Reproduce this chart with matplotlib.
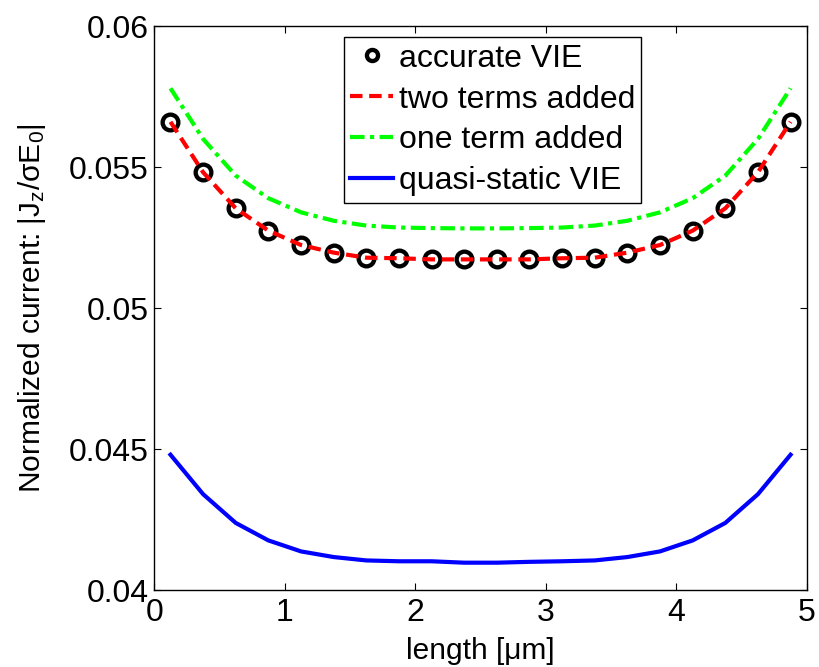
import matplotlib
matplotlib.use("Agg")
import matplotlib.pyplot as plt

plt.rcParams['font.family'] = ['Liberation Sans', 'DejaVu Sans']
plt.rcParams['mathtext.fontset'] = 'custom'
plt.rcParams['mathtext.rm'] = 'Liberation Sans'
plt.rcParams['mathtext.it'] = 'Liberation Sans'
plt.rcParams['mathtext.sf'] = 'Liberation Sans'

x = [0.125, 0.375, 0.625, 0.875, 1.125, 1.375, 1.625, 1.875, 2.125, 2.375,
     2.625, 2.875, 3.125, 3.375, 3.625, 3.875, 4.125, 4.375, 4.625, 4.875]

accurate = [0.05661, 0.05482, 0.05354, 0.05275, 0.05224, 0.05197, 0.05179, 0.05177, 0.05173, 0.05173,
            0.05173, 0.05173, 0.05177, 0.05179, 0.05197, 0.05224, 0.05275, 0.05354, 0.05482, 0.05661]
two_terms = [0.05661, 0.05482, 0.05354, 0.05275, 0.05224, 0.05197, 0.05179, 0.05177, 0.05173, 0.05173,
             0.05173, 0.05173, 0.05177, 0.05179, 0.05197, 0.05224, 0.05275, 0.05354, 0.05482, 0.05661]
one_term = [0.05780, 0.05600, 0.05470, 0.05390, 0.05340, 0.05310, 0.05293, 0.05286, 0.05284, 0.05283,
            0.05283, 0.05284, 0.05286, 0.05293, 0.05310, 0.05340, 0.05390, 0.05470, 0.05600, 0.05780]
quasi_static = [0.04480, 0.04340, 0.04238, 0.04176, 0.04137, 0.04117, 0.04105, 0.04102, 0.04102, 0.04097,
                0.04097, 0.04100, 0.04102, 0.04105, 0.04117, 0.04137, 0.04176, 0.04238, 0.04340, 0.04480]

xticks = [0, 1, 2, 3, 4, 5]
yticks = [0.04, 0.045, 0.05, 0.055, 0.06]
ytick_labels = ['0.04', '0.045', '0.05', '0.055', '0.06']

FS_TICK = 23
FS_LEG = 23
FS_LABEL = 21.5

fig = plt.figure(figsize=(8.2, 6.67), dpi=100)
ax = fig.add_axes([0.188, 0.1154, 0.796, 0.8452])

ax.plot(x, accurate, linestyle='none', marker='o', markersize=11.3, markerfacecolor='none',
        markeredgecolor='black', markeredgewidth=3.1, label='accurate VIE')
ax.plot(x, two_terms, color='#ff0000', linestyle=(0, (3, 1.6)), linewidth=3, label='two terms added')
ax.plot(x, one_term, color='#00ff00', linestyle=(0, (3.5, 1.3, 1, 1.3)), linewidth=3, label='one term added')
ax.plot(x, quasi_static, color='#0000ff', linestyle='-', linewidth=3, label='quasi-static VIE')

ax.set_xlim(0, 5)
ax.set_ylim(0.04, 0.06)
ax.set_xticks(xticks)
ax.set_xticklabels([str(t) for t in xticks])
ax.set_yticks(yticks)
ax.set_yticklabels(ytick_labels)
ax.tick_params(direction='in', length=5, width=0.8, top=True, right=True, labelsize=FS_TICK)
ax.tick_params(axis='y', pad=4)
ax.tick_params(axis='x', pad=5.5)
for s in ax.spines.values():
    s.set_linewidth(1.0)

ax.set_xlabel('length [μm]', fontsize=FS_LABEL, labelpad=7)
ax.set_ylabel(r'Normalized current: |J$_z$/$\sigma$E$_0$|', fontsize=FS_LABEL, labelpad=15)

leg = ax.legend(loc='upper center', bbox_to_anchor=(0.5187, 0.9805), fontsize=FS_LEG, frameon=True,
                fancybox=False, edgecolor='black', framealpha=1, handlelength=1.32,
                handletextpad=0.19, borderpad=0.2, labelspacing=0.34, borderaxespad=0)
leg.get_frame().set_linewidth(1.0)
leg.legend_handles[0].set_markersize(8)

fig.savefig('out.png', dpi=100)
